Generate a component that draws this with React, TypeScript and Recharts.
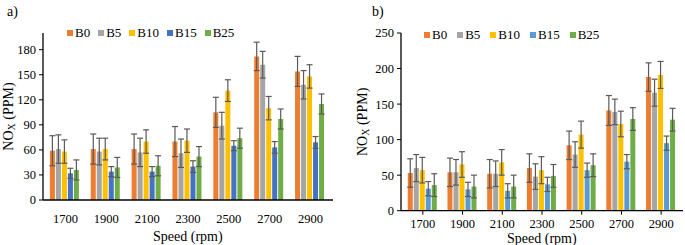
import React from "react";
import { BarChart, Bar, XAxis, YAxis, ErrorBar } from "recharts";

const speeds = ["1700", "1900", "2100", "2300", "2500", "2700", "2900"];
const fuels = ["B0", "B5", "B10", "B15", "B25"];

// panel a) values and error half-widths
const aB0 = [59, 61, 61, 70, 105, 172, 154];
const aB5 = [61, 58, 57, 56, 89, 162, 138];
const aB10 = [58, 61, 70, 71, 131, 110, 148];
const aB15 = [32, 34, 34, 40, 65, 63, 69];
const aB25 = [36, 39, 41, 52, 74, 97, 115];
const aB0err = [18, 18, 18, 18, 18, 17, 18];
const aB5err = [17, 16, 17, 17, 16, 16, 17];
const aB10err = [14, 13, 14, 14, 13, 14, 14];
const aB15err = [6, 6, 6, 7, 6, 7, 7];
const aB25err = [12, 12, 12, 12, 12, 12, 12];

// panel b)
const bB0 = [53, 54, 52, 60, 92, 141, 188];
const bB5 = [60, 54, 52, 48, 79, 139, 166];
const bB10 = [57, 65, 68, 57, 107, 122, 191];
const bB15 = [31, 30, 28, 37, 57, 69, 95];
const bB25 = [36, 34, 34, 49, 64, 129, 128];
const bB0err = [20, 20, 20, 20, 20, 21, 20];
const bB5err = [19, 18, 18, 18, 18, 18, 19];
const bB10err = [18, 18, 18, 19, 19, 18, 19];
const bB15err = [10, 10, 10, 10, 10, 10, 10];
const bB25err = [16, 16, 16, 16, 16, 16, 16];

const aTicks = [0, 30, 60, 90, 120, 150, 180];
const bTicks = [0, 50, 100, 150, 200, 250];

const colorsA = ["#ED7D31", "#A5A5A5", "#FFC000", "#4472C4", "#70AD47"];
const colorsB = ["#ED7D31", "#A5A5A5", "#FFC000", "#5B9BD5", "#70AD47"];

const FONT = "'Liberation Serif', 'Times New Roman', serif";

const build = (vals: number[][], errs: number[][]) =>
  speeds.map((s, i) => {
    const row: any = { speed: s };
    fuels.forEach((f, k) => {
      row[f] = vals[k][i];
      row[f + "e"] = errs[k][i];
    });
    return row;
  });

const dataA = build(
  [aB0, aB5, aB10, aB15, aB25],
  [aB0err, aB5err, aB10err, aB15err, aB25err]
);
const dataB = build(
  [bB0, bB5, bB10, bB15, bB25],
  [bB0err, bB5err, bB10err, bB15err, bB25err]
);

const YTitle = (props: any) => {
  const { viewBox, cx } = props;
  const cy = viewBox.y + viewBox.height / 2;
  return (
    <text
      transform={`translate(${cx},${cy}) rotate(-90)`}
      textAnchor="middle"
      dominantBaseline="central"
      fontFamily={FONT}
      fontSize={14}
      fill="#000"
    >
      NO
      <tspan dy={3} fontSize={10}>
        X
      </tspan>
      <tspan dy={-3}> (PPM)</tspan>
    </text>
  );
};

const LegendRow = ({ colors, left, top, gap }: any) => (
  <div
    style={{
      position: "absolute",
      left,
      top,
      display: "flex",
      alignItems: "center",
      fontFamily: FONT,
      fontSize: 13,
      lineHeight: "14px",
      color: "#000",
    }}
  >
    {fuels.map((f, i) => (
      <div key={f} style={{ display: "flex", alignItems: "center", marginRight: gap }}>
        <span style={{ width: 6, height: 6, background: colors[i], marginRight: 2 }} />
        <span>{f}</span>
      </div>
    ))}
  </div>
);

const Title = ({ text, left, top, fontSize = 14 }: any) => (
  <div
    style={{
      position: "absolute",
      left,
      top,
      fontFamily: FONT,
      fontSize,
      lineHeight: `${fontSize}px`,
      color: "#000",
      whiteSpace: "nowrap",
    }}
  >
    {text}
  </div>
);

const tickStyle = { fontFamily: FONT, fontSize: 12.5, fill: "#000" };

const Panel = ({ data, colors, ticks, max, width, margin, yWidth, tickX, xMargin, titleX }: any) => (
  <BarChart
    width={width}
    height={245}
    data={data}
    margin={margin}
    barCategoryGap="12%"
    barGap={1}
    style={{ fontFamily: FONT }}
  >
    <XAxis
      dataKey="speed"
      padding={{ left: 2, right: 2 }}
      axisLine={{ stroke: "#000", strokeWidth: 1.3 }}
      tickLine={tickX ? { stroke: "#000" } : false}
      tickSize={4}
      tickMargin={xMargin}
      tick={tickStyle}
      height={30}
    />
    <YAxis
      type="number"
      domain={[0, max]}
      ticks={ticks}
      interval={0}
      width={yWidth}
      axisLine={{ stroke: "#000", strokeWidth: 1.3 }}
      tickLine={{ stroke: "#000" }}
      tickSize={4}
      tickMargin={3}
      tick={tickStyle}
      label={<YTitle cx={titleX} />}
    />
    {fuels.map((f, i) => (
      <Bar key={f} dataKey={f} fill={colors[i]} isAnimationActive={false}>
        <ErrorBar
          dataKey={f + "e"}
          width={3}
          stroke="#5a5a5a"
          strokeWidth={1.2}
          direction="y"
        />
      </Bar>
    ))}
  </BarChart>
);

export default function App() {
  return (
    <div
      style={{
        position: "absolute",
        left: 0,
        top: 0,
        width: 685,
        height: 245,
        background: "#fff",
        overflow: "hidden",
      }}
    >
      <div style={{ position: "absolute", left: 0, top: 0 }}>
        <Panel
          data={dataA}
          colors={colorsA}
          ticks={aTicks}
          max={200}
          width={340}
          margin={{ top: 33, right: 7, bottom: 15, left: 0 }}
          yWidth={43}
          tickX={false}
          xMargin={10}
          titleX={8}
        />
      </div>
      <div style={{ position: "absolute", left: 340, top: 0 }}>
        <Panel
          data={dataB}
          colors={colorsB}
          ticks={bTicks}
          max={250}
          width={345}
          margin={{ top: 33, right: 2, bottom: 4.3, left: 0 }}
          yWidth={61}
          tickX={true}
          xMargin={4}
          titleX={22}
        />
      </div>
      <Title text="a)" left={7} top={5} />
      <Title text="b)" left={372} top={5} />
      <LegendRow colors={colorsA} left={67} top={26} gap={8} />
      <LegendRow colors={colorsB} left={424} top={28} gap={10} />
      <Title text="Speed (rpm)" left={153} top={230} />
      <Title text="Speed (rpm)" left={507} top={232} />
    </div>
  );
}
